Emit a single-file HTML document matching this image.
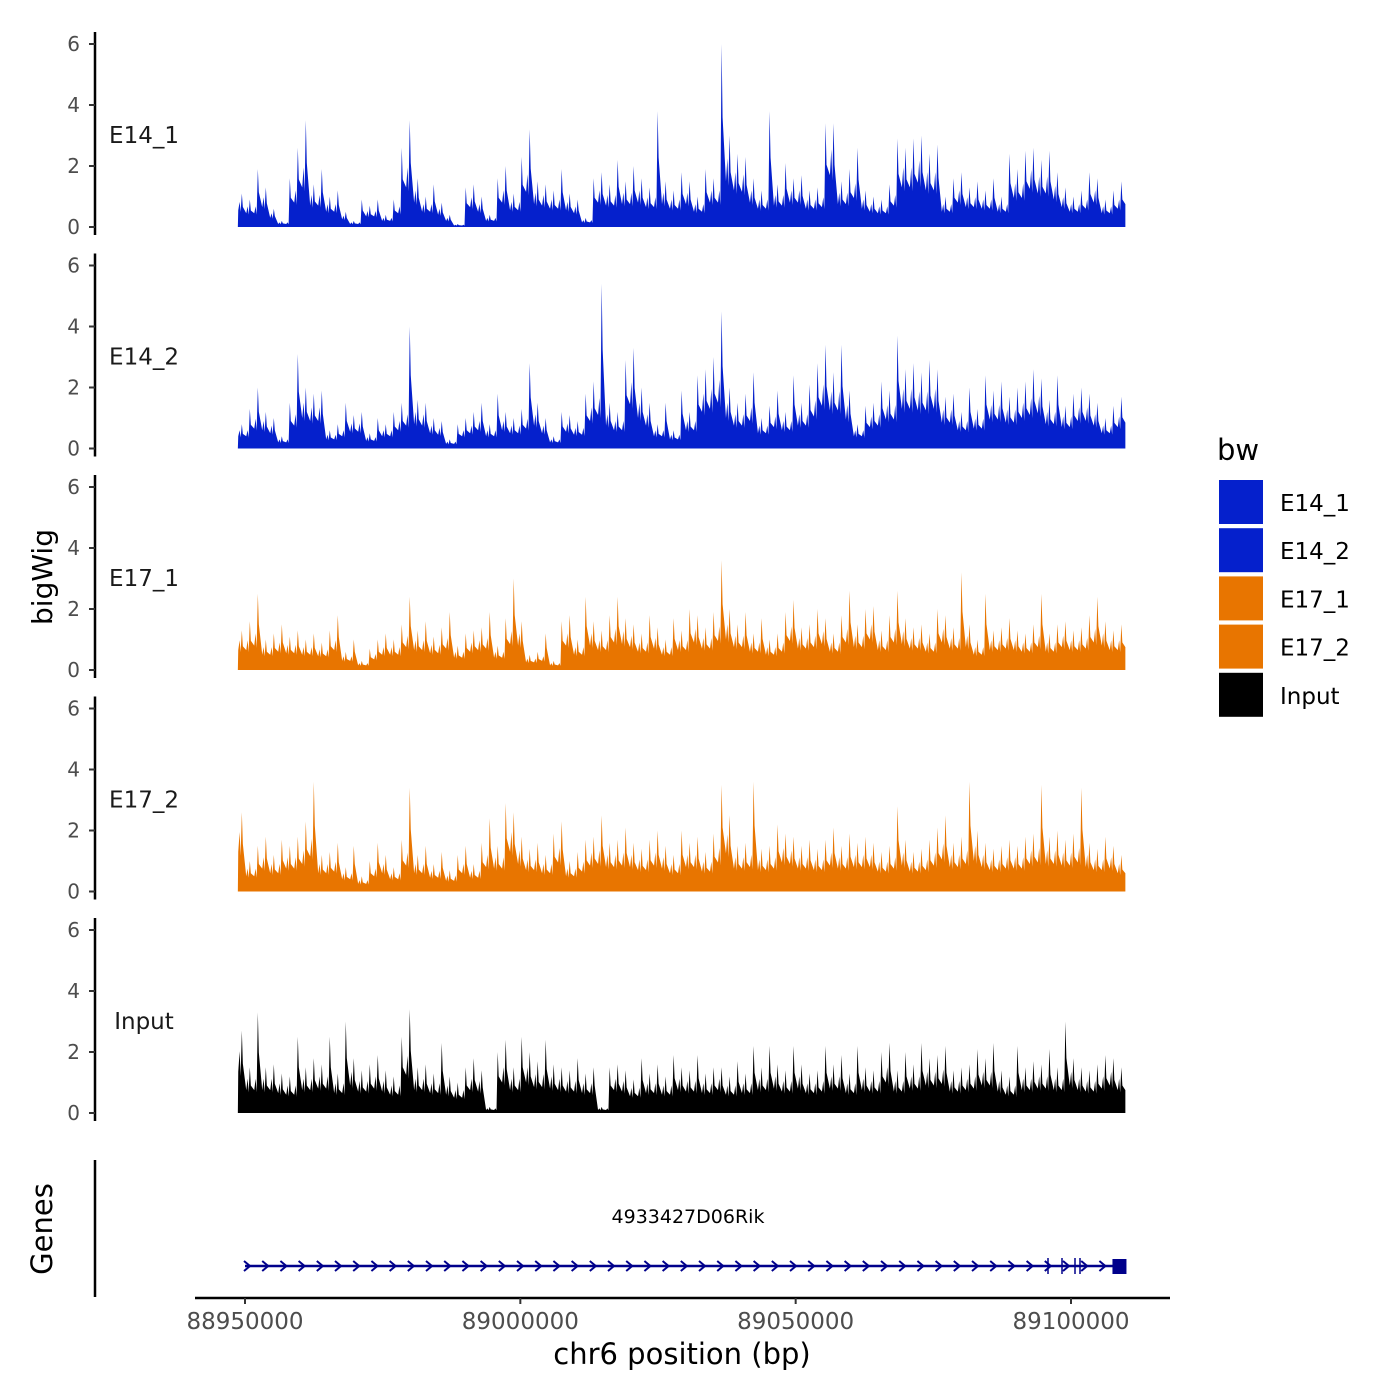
<!DOCTYPE html>
<html><head><meta charset="utf-8"><style>
body{margin:0;background:#fff}
svg{display:block;font-family:"DejaVu Sans","Liberation Sans",sans-serif}
</style></head><body>
<svg id="chart" width="1400" height="1400" viewBox="0 0 1400 1400">
<g id="tracks"></g>
<g id="axes"></g>
<g id="genes"></g>
<g id="legend"></g>
</svg>
<script>
const trackNames = ["E14_1","E14_2","E17_1","E17_2","Input"];
const trackColors = ["#0520CC","#0520CC","#E87500","#E87500","#000000"];
const yTicks = [0,2,4,6];
const xTicks = [88950000,89000000,89050000,89100000];
const xTickLabels = ["88950000","89000000","89050000","89100000"];
const binStartBp = 88948700;
const binSizeBp = 1452;
const geneName = "4933427D06Rik";
const geneStartBp = 88950000;
const geneEndBp = 89108800;
const e14_1 = [1.1,0.9,1.9,1.3,0.6,0.2,1.6,2.6,3.5,1.4,
1.9,1.0,1.2,0.5,0.2,0.9,0.7,0.9,0.4,0.9,
2.6,3.5,1.6,1.0,1.4,0.8,0.4,0.1,1.3,1.4,
1.0,0.4,1.6,2.0,1.1,2.3,3.2,1.5,1.4,1.2,
1.9,1.1,0.9,0.3,1.6,1.8,1.4,2.2,1.5,2.0,
1.6,1.3,3.8,1.5,1.2,1.8,1.5,1.0,1.9,1.6,
6.0,3.0,2.4,2.3,1.6,1.2,3.8,1.4,2.1,1.6,
1.7,1.2,1.3,3.4,3.4,1.5,1.9,2.6,1.2,1.0,
0.9,1.4,2.9,2.6,2.9,3.0,2.4,2.7,1.0,1.6,
1.8,1.3,1.5,1.2,1.6,1.0,2.4,1.9,2.5,2.6,
2.2,2.5,1.8,1.3,1.0,1.2,1.8,1.6,0.9,1.2,1.5];
const e14_2 = [0.8,1.3,2.0,1.2,1.0,0.4,1.5,3.1,2.0,1.8,
1.9,0.6,0.8,1.5,1.1,1.2,0.5,1.0,0.8,1.2,
1.5,4.0,1.6,1.5,1.0,0.9,0.3,0.8,1.0,1.2,
1.5,0.8,1.8,1.2,1.0,1.3,2.8,1.5,1.0,0.4,
1.2,1.1,0.9,1.8,2.2,5.4,1.5,1.2,2.9,3.3,
2.0,1.5,0.8,1.5,0.6,1.9,1.2,2.4,2.6,3.0,
4.5,2.0,1.5,1.8,2.5,1.0,1.4,1.9,1.2,2.4,
1.5,2.1,2.8,3.4,2.5,3.4,1.9,0.8,1.4,1.5,
2.2,1.9,3.7,2.6,2.8,2.5,2.9,2.6,1.7,1.8,
1.2,2.0,1.3,2.4,1.9,2.2,1.7,2.0,2.2,2.6,
2.3,1.6,2.4,1.4,1.8,2.0,1.8,1.5,1.0,1.4,1.7];
const e17_1 = [1.3,1.6,2.5,1.0,1.2,1.5,1.1,1.3,1.0,1.2,
0.9,1.3,1.8,0.6,1.0,0.3,0.7,1.0,1.2,1.0,
1.5,2.4,1.3,1.6,1.1,1.4,1.9,0.8,1.2,1.3,
1.4,1.9,0.8,1.7,3.0,1.6,0.5,0.6,1.2,0.3,
1.6,1.8,1.0,2.4,1.6,1.3,1.8,2.4,1.7,1.5,
1.2,1.8,1.4,1.0,1.7,1.3,2.0,1.8,1.4,1.9,
3.6,2.0,1.5,1.9,1.2,1.7,1.0,1.2,1.9,2.3,
1.4,1.5,2.0,1.7,1.2,1.8,2.6,1.5,2.0,2.1,
1.3,1.8,2.6,1.7,1.4,1.5,1.2,2.0,1.8,1.4,
3.2,1.5,1.0,2.5,1.3,1.4,1.7,1.3,1.2,1.5,
2.5,1.2,1.5,1.6,1.3,1.4,1.8,2.4,1.6,1.3,1.5];
const e17_2 = [2.6,1.0,1.5,1.8,1.2,1.7,1.5,1.8,2.3,3.6,
1.2,1.3,1.6,0.8,1.5,0.5,1.0,1.6,1.2,0.8,
1.7,3.4,1.2,1.5,0.9,1.3,0.7,1.2,1.5,0.9,
1.6,2.4,1.5,2.9,2.6,1.8,1.4,1.6,1.2,1.9,
2.3,1.0,1.3,1.7,1.8,2.5,1.6,1.7,2.1,1.6,
1.4,1.7,2.0,1.5,1.2,2.0,1.6,1.8,1.3,1.9,
3.5,2.5,1.5,1.6,3.6,1.4,1.5,2.2,1.9,1.8,
1.5,1.7,1.4,1.7,2.1,1.5,1.9,1.6,1.8,1.6,
1.3,1.5,2.8,1.7,1.3,1.4,1.7,2.1,2.5,1.6,
1.8,3.6,2.0,1.6,1.4,1.5,1.7,1.5,1.8,1.9,
3.5,1.8,2.0,1.7,1.9,3.4,1.6,1.4,1.8,1.5,1.2];
const inputTrack = [2.7,1.5,3.3,1.5,1.6,1.3,1.2,2.5,1.5,1.8,
1.6,2.5,1.3,3.0,1.8,1.4,1.6,1.9,1.4,1.2,
2.5,3.4,1.5,1.6,1.3,2.3,1.2,1.0,1.5,1.8,
1.4,0.2,2.0,2.4,1.5,2.5,2.0,1.7,2.4,1.6,
1.5,1.4,1.8,1.3,1.5,0.2,1.5,1.6,1.4,1.1,
1.8,1.3,1.6,1.2,1.9,1.5,1.4,1.9,1.3,1.5,
1.5,1.2,1.7,1.3,2.2,1.5,2.2,1.6,1.4,2.2,
1.6,1.3,1.4,2.2,1.6,1.9,1.3,2.2,1.5,1.4,
2.0,2.3,1.4,2.0,1.6,2.3,1.8,1.9,2.2,1.4,
1.5,1.6,2.1,1.8,2.3,1.4,1.2,2.2,1.5,1.7,
1.6,2.1,1.5,3.0,1.8,1.5,1.4,1.6,1.9,1.8,1.5];
const trackData = [e14_1,e14_2,e17_1,e17_2,inputTrack];

const NS="http://www.w3.org/2000/svg";
function mk(tag,attrs,parent){const e=document.createElementNS(NS,tag);for(const k in attrs)e.setAttribute(k,attrs[k]);parent.appendChild(e);return e;}
function xScale(bp){return 245+(bp-88950000)*826/150000;}
function baseY(k){return 227+k*221.5;}
function yScale(k,v){return baseY(k)-v*30.5;}

const tracks=document.getElementById('tracks');
const axes=document.getElementById('axes');
trackData.forEach((vals,k)=>{
  const b=baseY(k);
  const x0=xScale(binStartBp);
  let d=`M${x0},${b}`;
  vals.forEach((v,i)=>{
    const xc=xScale(binStartBp+(i+0.5)*binSizeBp);
    const prev=i>0?vals[i-1]:v;
    const m=Math.min(v,prev);
    d+=` L${xc-3.6},${yScale(k,0.5*m)} L${xc-2.2},${yScale(k,0.75*m)} L${xc-1.2},${yScale(k,0.45*m)} L${xc},${yScale(k,v)} L${xc+1},${yScale(k,0.6*v)}`;
  });
  const xe=xScale(binStartBp+vals.length*binSizeBp);
  d+=` L${xe},${yScale(k,0.5*vals[vals.length-1])} L${xe},${b} Z`;
  const p=mk('path',{d:d,fill:trackColors[k]},tracks);
  
  
  const ax=mk('line',{x1:95,x2:95,y1:b-195,y2:b+8,stroke:'#000','stroke-width':2.5},axes);
  
  
  yTicks.forEach(t=>{
    const y=yScale(k,t);
    const tk=mk('line',{x1:89,x2:95,y1:y,y2:y,stroke:'#333','stroke-width':2},axes);
    
    
    const tl=mk('text',{x:80,y:y+7,'text-anchor':'end','font-size':20,fill:'#4d4d4d'},axes);
    tl.textContent=t;
    
    
  });
  const lb=mk('text',{x:144,y:b-84,'text-anchor':'middle','font-size':23,fill:'#1a1a1a'},axes);
  lb.textContent=trackNames[k];
  
  
});
const yt=mk('text',{x:0,y:0,transform:'translate(52,577) rotate(-90)','text-anchor':'middle','font-size':28},axes);
yt.textContent='bigWig';



const g=document.getElementById('genes');
const gl=mk('line',{x1:95,x2:95,y1:1160,y2:1297,stroke:'#000','stroke-width':2.5},g);


const gt=mk('text',{x:0,y:0,transform:'translate(52,1229) rotate(-90)','text-anchor':'middle','font-size':29},g);
gt.textContent='Genes';


const gx0=xScale(geneStartBp), gx1=xScale(geneEndBp);
const gn=mk('text',{x:688,y:1223,'text-anchor':'middle','font-size':19},g);
gn.textContent=geneName;


const gline=mk('line',{x1:gx0,x2:gx1,y1:1266,y2:1266,stroke:'#00008B','stroke-width':2.5},g);


for(let x=gx0+2;x<gx1-14;x+=18.2){
  const ar=mk('path',{d:`M${x-3},${1261} L${x+3},${1266} L${x-3},${1271}`,fill:'none',stroke:'#00008B','stroke-width':2},g);
  
  
}
[1048,1062,1075,1080].forEach(x=>{
  const ex=mk('line',{x1:x,x2:x,y1:1258,y2:1274,stroke:'#00008B','stroke-width':1.5},g);
  
  
});
const exb=mk('rect',{x:gx1-7,y:1259,width:14,height:15,fill:'#00008B'},g);


const xa=mk('line',{x1:195,x2:1170,y1:1298,y2:1298,stroke:'#000','stroke-width':2.5},g);


xTicks.forEach((t,i)=>{
  const x=xScale(t);
  const tk=mk('line',{x1:x,x2:x,y1:1298,y2:1304,stroke:'#333','stroke-width':2},g);
  
  
  const tl=mk('text',{x:x,y:1329,'text-anchor':'middle','font-size':23,fill:'#4d4d4d'},g);
  tl.textContent=xTickLabels[i];
  
  
});
const xt=mk('text',{x:682,y:1364,'text-anchor':'middle','font-size':29},g);
xt.textContent='chr6 position (bp)';



const lg=document.getElementById('legend');
const lt=mk('text',{x:1217,y:460,'font-size':29},lg);
lt.textContent='bw';


trackNames.forEach((n,i)=>{
  const y=480+i*48.2;
  const r=mk('rect',{x:1219,y:y,width:44,height:44,fill:trackColors[i]},lg);
  
  
  const t=mk('text',{x:1280,y:y+31,'font-size':23},lg);
  t.textContent=n;
  
  
});
</script>
</body></html>
